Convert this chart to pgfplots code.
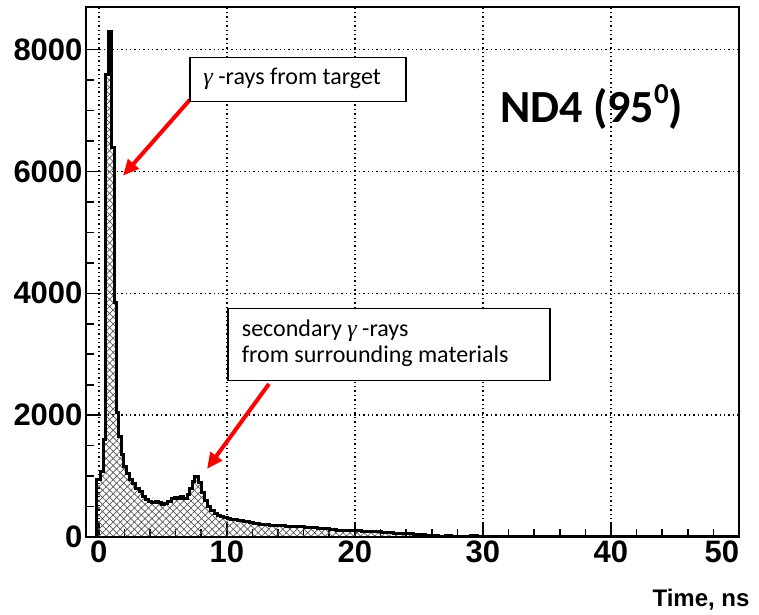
\documentclass[border=0pt]{standalone}
\usepackage{fontspec}
\setmainfont{Liberation Sans}
\newfontfamily\annfont{Carlito}
\newfontfamily\gfont{Liberation Serif}
\usepackage{pgfplots}
\pgfplotsset{compat=1.18}
\usetikzlibrary{patterns.meta,arrows.meta}
\begin{document}
\begin{tikzpicture}
\begin{axis}[
  scale only axis, width=653pt, height=530pt,
  xmin=-1, xmax=50, ymin=0, ymax=8700,
  xtick={0,10,...,50}, ytick={0,2000,...,8000},
  xticklabels={0,10,20,30,40,{\makebox[0pt][r]{50}}},
  minor x tick num=4, minor y tick num=3,
  tick pos=left, tick align=inside,
  major tick length=15pt, minor tick length=8pt,
  every tick/.style={black, line width=1.6pt},
  axis line style={line width=1.8pt},
  grid=major,
  major grid style={black, line width=1.4pt, dash pattern=on 1.4pt off 3pt},
  ticklabel style={font=\fontsize{31}{31}\selectfont\bfseries},
  /pgf/number format/assume math mode=true,
  /pgf/number format/1000 sep={},
  scaled ticks=false,
  xlabel={Time, ns},
  xlabel style={font=\fontsize{24}{24}\selectfont\bfseries, anchor=east, at={(rel axis cs:1,0)}, xshift=14pt, yshift=-63pt},
]
\addplot[const plot, draw=black, line width=3pt, pattern={Hatch[angle=45,distance=5pt,line width=0.7pt]}, pattern color=black!65] coordinates {
(-1,0) (-0.2,950) (0.1,1080) (0.33,1600) (0.52,7600) (0.72,8300) (1.03,6400) (1.2,3850)
(1.35,2050) (1.55,1650) (1.75,1350) (1.95,1150) (2.15,1050) (2.4,950) (2.65,880) (2.9,800)
(3.15,740) (3.4,670) (3.65,610) (3.9,580) (4.15,560) (4.4,575) (4.65,570) (4.9,540)
(5.15,545) (5.4,590) (5.65,640) (5.9,655) (6.15,640) (6.4,660) (6.65,640) (6.9,690)
(7.1,790) (7.3,910) (7.5,1000) (7.75,890) (8.0,730) (8.25,600) (8.5,500) (8.75,440)
(9.0,390) (9.25,360) (9.5,340) (9.75,320) (10.05,305) (10.3,295) (10.55,285) (10.8,275)
(11.05,265) (11.3,255) (11.55,250) (11.8,235) (12.05,225) (12.3,215) (12.55,210) (12.8,205)
(13.05,200) (13.3,195) (13.55,195) (13.8,185) (14.05,185) (14.55,180) (15.05,175) (15.55,170)
(16.05,160) (16.55,150) (17.05,145) (17.55,140) (18.05,130) (18.55,115) (19.05,110) (19.55,105)
(20.05,100) (20.55,95) (21.05,90) (21.55,85) (22.05,75) (22.55,70) (23.05,60) (23.55,55)
(24.05,50) (24.55,45) (25.05,35) (25.55,30) (26.05,20) (26.55,15) (27.05,20) (27.55,10)
(28.05,15) (28.55,10) (29.05,20) (29.55,10) (30.05,8) (31,6) (32,5) (34,6)
(36,4) (38,5) (40,3) (42,4) (44,3) (46,3) (48,2) (50,2)
} \closedcycle;
% annotations
\draw[red, line width=4pt, -{Triangle[length=16pt,width=14pt]}] (axis cs:7.12,7179) -- (axis cs:1.89,5930);
\draw[red, line width=4pt, -{Triangle[length=16pt,width=14pt]}] (axis cs:13.29,2513) -- (axis cs:8.45,1117);
\draw[black, line width=1.2pt, fill=white] (axis cs:7.12,7146) rectangle (axis cs:23.99,7869);
\draw[black, line width=1.2pt, fill=white] (axis cs:10.09,2563) rectangle (axis cs:35.24,3745);
\node[anchor=base west, inner sep=0, font=\annfont\fontsize{24}{24}\selectfont] at (axis cs:8.16,7425) {{\gfont\itshape γ} -rays from target};
\node[anchor=base west, inner sep=0, font=\annfont\fontsize{24}{24}\selectfont] at (axis cs:11.16,3285) {secondary {\gfont\itshape γ} -rays};
\node[anchor=base west, inner sep=0, font=\annfont\fontsize{24}{24}\selectfont] at (axis cs:11.16,2858) {from surrounding materials};
\node[anchor=base west, inner sep=0, font=\annfont\bfseries\fontsize{46}{46}\selectfont] at (axis cs:31.33,6801) {ND4 (95\raisebox{0.42em}{\fontsize{29}{29}\selectfont 0})};
\end{axis}
\path (current axis.south west) ++(-86pt,-77pt) rectangle ++(759pt,614pt);
\end{tikzpicture}
\end{document}
